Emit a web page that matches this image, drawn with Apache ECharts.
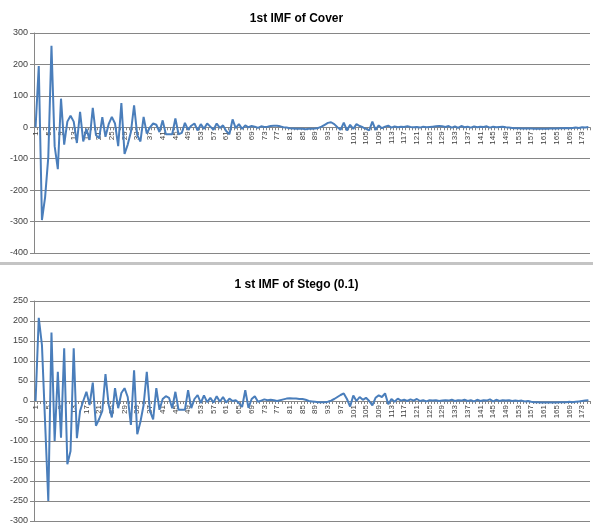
<!DOCTYPE html>
<html>
<head>
<meta charset="utf-8">
<script src="https://cdn.jsdelivr.net/npm/echarts@6/dist/echarts.min.js"></script>
<style>
  html, body { margin: 0; padding: 0; background: #fff; }
  #chart { width: 593px; height: 529px; }
</style>
</head>
<body>
<div id="chart"></div>
<script>
// data
var titles = ['1st IMF of Cover', '1 st IMF of Stego (0.1)'];

var coverImf = [
  0, 195, -295, -222, -95, 259, -60, -133, 91, -55,
  18, 37, 18, -50, 49, -45, -5, -40, 62, -25,
  -35, 32, -30, 10, 33, 12, -60, 77, -85, -55,
  -15, 70, -25, -45, 33, -20, 0, 12, 8, -15,
  22, -22, -22, -22, 28, -22, -18, 14, -8, 5,
  12, -10, 10, -5, 12, 2, -8, 12, -2, 6,
  -12, -22, 25, -3, 10, -5, 6, 0, 4, 2,
  -2, 3, 1, 2, 4, 5, 5, 3, 0, -1,
  -3, -4, -5, -5, -5, -6, -5, -5, -4, -2,
  2, 8, 14, 16, 10, 0, -8, 15, -10, 8,
  -5, 10, 4, 0, -5, -10, 18, -8, 6, -3,
  2, 5, -1, 3, 0, 2, 1, 3, 1, 0,
  1, -1, 2, 0, 1, 2, 3, 4, 3, 1,
  4, -1, 3, -2, 4, 0, 2, -1, 3, 0,
  2, 1, 3, -1, 2, 0, 1, 2, 0, -1,
  -2, -3, -3, -4, -4, -4, -4, -5, -5, -5,
  -5, -5, -4, -4, -4, -3, -3, -2, -3, -2,
  -1, -2, 0, -1, 1
];

var stegoImf = [
  0, 208, 140, -55, -250, 171, -100, 73, -92, 132,
  -158, -125, 132, -93, -25, 0, 23, -10, 46, -62,
  -45, -25, 67, -10, -41, 32, -18, 20, 32, 10,
  -60, 77, -83, -52, -10, 73, -25, -46, 32, -22,
  5, 12, 8, -18, 23, -22, -22, -22, 27, -18,
  5, 15, -5, 14, -3, 8, -4, 12, -2, 10,
  -4, 6, 0, 2, -5, -15, 27, -17, 5, 12,
  -2, 1, 4, 2, 3, 2, 0, 2, 4, 6,
  7, 6, 6, 5, 5, 3, 0, -1, -2, -3,
  -3, -3, -2, 1, 5, 10, 15, 19, 5, -14,
  14, 0, 10, 3, 8, 0, -11, 8, 14, 10,
  19, -8, 5, -2, 6, 1, 3, 0, 4, 1,
  5, 0, 2, -1, 2, 1, 2, 0, 1, 2,
  1, 3, 0, 2, 1, 3, 0, 2, -1, 3,
  0, 2, 1, 4, -1, 3, 0, 2, 1, 2,
  0, 1, 0, 1, -1, 0, -2, -3, -3, -4,
  -4, -4, -4, -4, -4, -3, -3, -3, -2, -3,
  -2, -1, 0, 1, 2
];

// y ranges of the two charts
var coverRange = [-400, 300, 100];
var stegoRange = [-300, 250, 50];

// category labels 1..175
var categories = [];
for (var i = 1; i <= coverImf.length; i++) {
  categories.push(String(i));
}

var axisGray = '#868686';
var textGray = '#404040';
var plotH = 220;

// distance of the zero line above the grid bottom, so the category axis sits on 0
function zeroOffset(range) {
  return -plotH * (0 - range[0]) / (range[1] - range[0]);
}

function xAxisFor(gridIndex, range) {
  return {
    type: 'category',
    gridIndex: gridIndex,
    data: categories,
    boundaryGap: true,
    position: 'bottom',
    offset: zeroOffset(range),
    axisLine: { onZero: false, lineStyle: { color: axisGray, width: 1 } },
    axisTick: { show: true, interval: 0, length: 3, lineStyle: { color: axisGray } },
    axisLabel: {
      interval: 3,
      rotate: 90,
      fontSize: 8,
      color: textGray,
      margin: 4,
      fontFamily: 'Liberation Sans'
    },
    splitLine: { show: false }
  };
}

function yAxisFor(gridIndex, range) {
  return {
    type: 'value',
    gridIndex: gridIndex,
    min: range[0],
    max: range[1],
    interval: range[2],
    axisLine: { show: true, lineStyle: { color: axisGray } },
    axisTick: { show: true, length: 4, lineStyle: { color: axisGray } },
    axisLabel: { fontSize: 9, color: textGray, margin: 6, fontFamily: 'Liberation Sans' },
    splitLine: { show: true, lineStyle: { color: axisGray, width: 1 } }
  };
}

var option = {
  animation: false,
  backgroundColor: '#fff',
  title: [
    {
      text: titles[0], left: 'center', top: 8,
      textStyle: { fontSize: 12, fontWeight: 'bold', color: '#000', fontFamily: 'Liberation Sans' }
    },
    {
      text: titles[1], left: 'center', top: 274,
      textStyle: { fontSize: 12, fontWeight: 'bold', color: '#000', fontFamily: 'Liberation Sans' }
    }
  ],
  grid: [
    { left: 34, right: 3, top: 33, height: plotH },
    { left: 34, right: 3, top: 301, height: plotH }
  ],
  xAxis: [xAxisFor(0, coverRange), xAxisFor(1, stegoRange)],
  yAxis: [yAxisFor(0, coverRange), yAxisFor(1, stegoRange)],
  series: [
    {
      type: 'line', xAxisIndex: 0, yAxisIndex: 0, data: coverImf,
      symbol: 'none', lineStyle: { color: '#4A7EBB', width: 2 }
    },
    {
      type: 'line', xAxisIndex: 1, yAxisIndex: 1, data: stegoImf,
      symbol: 'none', lineStyle: { color: '#4A7EBB', width: 2 }
    }
  ],
  // gray band separating the two charts
  graphic: [
    { type: 'rect', shape: { x: 0, y: 262, width: 593, height: 3 }, style: { fill: '#c4c4c4' } }
  ]
};

var myChart = echarts.init(document.getElementById('chart'));
myChart.setOption(option);
</script>
</body>
</html>
